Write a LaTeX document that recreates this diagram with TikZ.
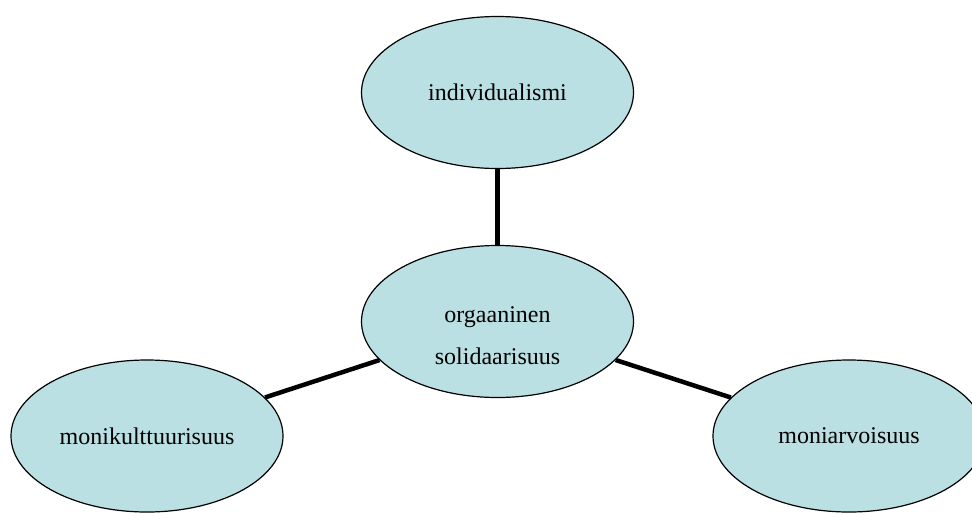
\documentclass[tikz,border=0pt]{standalone}
\usepackage{fontspec}
\setmainfont{Liberation Serif}
\usetikzlibrary{shapes.geometric}
\definecolor{ellfill}{RGB}{187,224,227}
\tikzset{
  ell/.style={ellipse, draw=black, line width=1.2pt, fill=ellfill, minimum width=272pt, minimum height=152pt, inner sep=0pt, font=\fontsize{24}{28}\selectfont},
  lbl/.style={font=\fontsize{24}{42}\selectfont, align=center, inner sep=0pt},
  conn/.style={line width=4.5pt}
}
\begin{document}
\begin{tikzpicture}[x=1pt,y=-1pt]
\useasboundingbox (0,0) rectangle (972,512);
\node[ell] (top) at (497.5,92.5) {individualismi};
\node[ell] (mid) at (497.5,321.5) {};
\node[ell] (left) at (147,436) {monikulttuurisuus};
\node[ell] (right) at (849,436) {moniarvoisuus};
\node[lbl] (midtext) at (497.5,336) {orgaaninen\\solidaarisuus};
\draw[conn] (top) -- (mid);
\draw[conn] (mid) -- (left);
\draw[conn] (mid) -- (right);
\end{tikzpicture}
\end{document}
